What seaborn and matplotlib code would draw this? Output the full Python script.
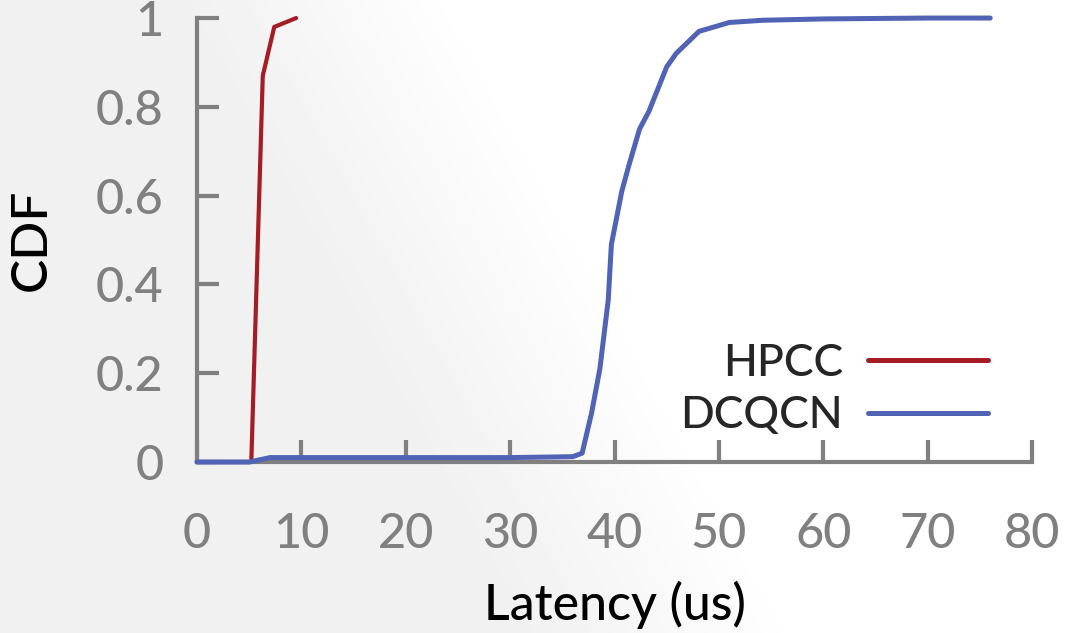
import matplotlib
matplotlib.use('Agg')
import matplotlib.pyplot as plt
import numpy as np
import pandas as pd
import seaborn as sns

# Data (latency in us, CDF)
hpcc_latency = [0, 5.2, 6.3, 7.4, 9.5]
hpcc_cdf = [0, 0, 0.87, 0.98, 1.0]

dcqcn_latency = [0, 5, 7, 10, 20, 30, 36.0, 36.9, 37.8, 38.6, 39.4, 39.7, 40.7, 41.4,
                 42.4, 43.3, 45.0, 45.9, 48.1, 51.0, 54.2, 60, 70, 76]
dcqcn_cdf = [0, 0, 0.01, 0.01, 0.01, 0.01, 0.012, 0.02, 0.11, 0.21, 0.365, 0.49, 0.61, 0.67,
             0.75, 0.79, 0.89, 0.92, 0.97, 0.99, 0.995, 0.998, 1.0, 1.0]

x_ticks = [0, 10, 20, 30, 40, 50, 60, 70, 80]
y_ticks = [0, 0.2, 0.4, 0.6, 0.8, 1]
y_tick_labels = ['0', '0.2', '0.4', '0.6', '0.8', '1']

hpcc_color = '#a51c24'
dcqcn_color = '#5063b5'
axis_gray = '#808080'

sns.set_style('ticks')
plt.rcParams['font.family'] = ['Lato', 'DejaVu Sans']

fig = plt.figure(figsize=(10.76, 6.33), dpi=100)

# Soft grey slide background on the left, fading to white
u, v = np.meshgrid(np.linspace(0, 1, 1076), np.linspace(1, 0, 633))
t = np.clip((u - (0.62 - 0.32 * v)) / 0.25 + 0.5, 0, 1)
shade = 0.945 + 0.055 * t
fig.figimage(shade, cmap='gray', vmin=0, vmax=1, zorder=-10, origin='upper')

ax = fig.add_axes([0.1831, 0.2701, 0.776, 0.7014])
ax.set_facecolor('none')

df_hpcc = pd.DataFrame({'latency': hpcc_latency, 'cdf': hpcc_cdf})
df_dcqcn = pd.DataFrame({'latency': dcqcn_latency, 'cdf': dcqcn_cdf})

sns.lineplot(data=df_dcqcn, x='latency', y='cdf', ax=ax, color=dcqcn_color,
             linewidth=3.6, label='DCQCN', estimator=None, sort=False, clip_on=False,
             solid_capstyle='round', zorder=3)
sns.lineplot(data=df_hpcc, x='latency', y='cdf', ax=ax, color=hpcc_color,
             linewidth=3.0, label='HPCC', estimator=None, sort=False, clip_on=False,
             solid_capstyle='round', zorder=2)

ax.set_xlim(0, 80)
ax.set_ylim(0, 1)
ax.set_xticks(x_ticks)
ax.set_yticks(y_ticks)
ax.set_yticklabels(y_tick_labels)

sns.despine(ax=ax)
for side in ['left', 'bottom']:
    ax.spines[side].set_color(axis_gray)
    ax.spines[side].set_linewidth(3)
    ax.spines[side].set_capstyle('projecting')

# inward tick marks, drawn at the tick positions in axis-blended coordinates
ax.tick_params(axis='both', length=0)
ax.tick_params(axis='x', labelcolor=axis_gray, labelsize=35, pad=36)
ax.tick_params(axis='y', labelcolor=axis_gray, labelsize=35, pad=24)
ax.vlines(x_ticks, 0, 0.05, transform=ax.get_xaxis_transform(), colors=axis_gray,
          linewidth=3, clip_on=False, zorder=2.6)
ax.hlines(y_ticks, 0, 0.026, transform=ax.get_yaxis_transform(), colors=axis_gray,
          linewidth=3, clip_on=False, zorder=2.6)
for lab in ax.get_xticklabels() + ax.get_yticklabels():
    lab.set_fontweight('medium')

ax.set_xlabel('Latency (us)', fontsize=36, fontweight='medium', color='black', labelpad=18)
ax.set_ylabel('CDF', fontsize=37, fontweight='medium', color='black', labelpad=30)

handles, labels = ax.get_legend_handles_labels()
order = [labels.index('HPCC'), labels.index('DCQCN')]
leg = ax.legend([handles[i] for i in order], [labels[i] for i in order],
                loc='lower right', bbox_to_anchor=(0.947, 0.058), frameon=False,
                markerfirst=False, handlelength=2.7, handletextpad=0.55,
                borderpad=0, borderaxespad=0, labelspacing=0.26,
                prop={'size': 32, 'weight': 'medium'})
for line in leg.get_lines():
    line.set_linewidth(3.6)

fig.savefig('out.png', dpi=100)
